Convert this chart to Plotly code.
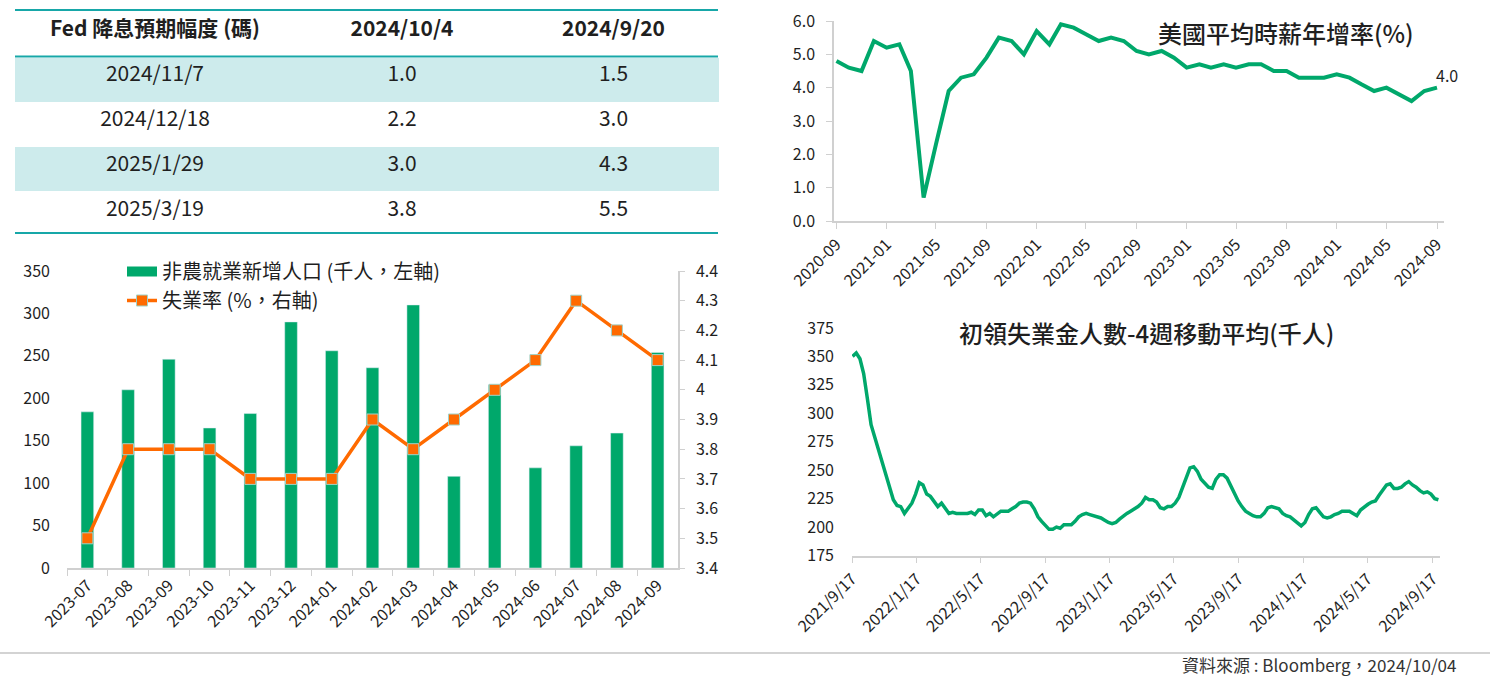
import pandas as pd
import plotly.graph_objects as go

W, H = 1490, 676
FONT = "Noto Sans CJK TC"
GREEN = "#00a86b"
ORANGE = "#ff6a00"
TEAL = "#17a7a8"
SHADE = "#cdebec"
AXIS = "#d0d0d0"
TXT = "#1f1f1f"

# ---------------- data ----------------
table_header = ["Fed 降息預期幅度 (碼)", "2024/10/4", "2024/9/20"]
meeting_dates = ["2024/11/7", "2024/12/18", "2025/1/29", "2025/3/19"]
cuts_oct4 = [1.0, 2.2, 3.0, 3.8]
cuts_sep20 = [1.5, 3.0, 4.3, 5.5]

nfp_months = ["2023-07", "2023-08", "2023-09", "2023-10", "2023-11", "2023-12",
              "2024-01", "2024-02", "2024-03", "2024-04", "2024-05", "2024-06",
              "2024-07", "2024-08", "2024-09"]
nfp_change = [184, 210, 246, 165, 182, 290, 256, 236, 310, 108, 216, 118, 144, 159, 254]
unemp_rate = [3.5, 3.8, 3.8, 3.8, 3.7, 3.7, 3.7, 3.9, 3.8, 3.9, 4.0, 4.1, 4.3, 4.2, 4.1]

wage_months = pd.date_range("2020-09-01", periods=49, freq="MS")
wage_yoy = [4.8, 4.6, 4.5, 5.4, 5.2, 5.3, 4.5, 0.7, 2.3, 3.9, 4.3, 4.4, 4.9,
            5.5, 5.4, 5.0, 5.7, 5.3, 5.9, 5.8, 5.6, 5.4, 5.5, 5.4, 5.1, 5.0,
            5.1, 4.9, 4.6, 4.7, 4.6, 4.7, 4.6, 4.7, 4.7, 4.5, 4.5, 4.3, 4.3,
            4.3, 4.4, 4.3, 4.1, 3.9, 4.0, 3.8, 3.6, 3.9, 4.0]

claims_weeks = pd.date_range("2021-09-18", periods=159, freq="7D")
claims_4wk = [350, 353, 348, 335, 313, 290, 279, 269, 257, 246, 236, 224, 219, 218,
              212, 216, 221, 229, 239, 237, 229, 227, 223, 218, 221, 217, 212, 213,
              212, 212, 212, 212, 213, 211, 215, 215, 210, 212, 209, 212, 214, 214,
              214, 216, 218, 221, 222, 222, 221, 216, 209, 205, 202, 198, 198, 200,
              199, 202, 202, 202, 205, 209, 211, 212, 211, 210, 209, 208, 206, 204,
              203, 204, 207, 210, 212, 214, 216, 218, 221, 226, 224, 224, 222, 217,
              216, 218, 218, 221, 226, 235, 244, 252, 253, 249, 242, 238, 235, 234,
              242, 246, 246, 243, 236, 229, 223, 218, 214, 212, 210, 209, 209, 212,
              217, 218, 217, 216, 212, 210, 209, 206, 204, 201, 204, 211, 216, 217,
              213, 209, 208, 209, 211, 212, 214, 214, 214, 212, 210, 215, 218, 220,
              222, 223, 228, 233, 237, 238, 234, 234, 235, 238, 240, 237, 235, 232,
              230, 231, 229, 225, 224]
claims_tick_dates = ["2021-09-17", "2022-01-17", "2022-05-17", "2022-09-17", "2023-01-17",
                     "2023-05-17", "2023-09-17", "2024-01-17", "2024-05-17", "2024-09-17"]
claims_tick_labels = ["2021/9/17", "2022/1/17", "2022/5/17", "2022/9/17", "2023/1/17",
                      "2023/5/17", "2023/9/17", "2024/1/17", "2024/5/17", "2024/9/17"]

title_wage = "美國平均時薪年增率(%)"
title_claims = "初領失業金人數-4週移動平均(千人)"
legend_nfp = "非農就業新增人口 (千人，左軸)"
legend_unemp = "失業率 (%，右軸)"
source_text = "資料來源 : Bloomberg，2024/10/04"

# ---------------- figure ----------------
fig = go.Figure()

row_fill = [SHADE if i % 2 == 0 else "white" for i in range(len(meeting_dates))]
HEAD_H, ROW_H, TOP = 45, 44.8, 12.5
fig.add_trace(go.Table(
    domain=dict(x=[15 / W, 718 / W],
                y=[1 - (TOP + HEAD_H + 4 * ROW_H) / H, 1 - TOP / H]),
    columnwidth=[280, 214, 209],
    header=dict(values=table_header,
                fill_color="white", line=dict(width=1, color="white"),
                align="center", height=HEAD_H,
                font=dict(family=FONT, size=21, color=TXT, weight="bold")),
    cells=dict(values=[meeting_dates,
                       [f"{v:.1f}" for v in cuts_oct4],
                       [f"{v:.1f}" for v in cuts_sep20]],
               fill_color=[row_fill] * 3,
               line=dict(width=1, color=[row_fill] * 3),
               align="center", height=ROW_H,
               font=dict(family=FONT, size=21, color=TXT)),
))

# bottom-left: bars + unemployment line
fig.add_trace(go.Bar(x=nfp_months, y=nfp_change, marker_color=GREEN, width=0.31,
                     showlegend=False, xaxis="x", yaxis="y", hoverinfo="x+y"))
fig.add_trace(go.Scatter(x=[None], y=[None], mode="lines",
                         line=dict(color=GREEN, width=12),
                         name=legend_nfp, xaxis="x", yaxis="y"))
fig.add_trace(go.Scatter(x=nfp_months, y=unemp_rate, mode="lines+markers",
                         line=dict(color=ORANGE, width=3.5),
                         marker=dict(symbol="square", size=11, color=ORANGE,
                                     line=dict(color="#9fd2c8", width=1)),
                         name=legend_unemp, xaxis="x", yaxis="y2"))

# top-right: wage growth
fig.add_trace(go.Scatter(x=wage_months, y=wage_yoy, mode="lines",
                         line=dict(color=GREEN, width=4),
                         showlegend=False, xaxis="x2", yaxis="y3"))

# bottom-right: initial claims
fig.add_trace(go.Scatter(x=claims_weeks, y=claims_4wk, mode="lines",
                         line=dict(color=GREEN, width=3.5),
                         showlegend=False, xaxis="x3", yaxis="y4"))

tick_font = dict(family=FONT, size=16, color=TXT)

fig.update_layout(
    width=W, height=H,
    margin=dict(l=0, r=0, t=0, b=0, autoexpand=False),
    paper_bgcolor="white", plot_bgcolor="white",
    font=dict(family=FONT, color=TXT),
    showlegend=True,
    legend=dict(x=122 / W, y=1 - 252 / H, xanchor="left", yanchor="top",
                bgcolor="rgba(0,0,0,0)", borderwidth=0, tracegroupgap=0,
                font=dict(family=FONT, size=20, color=TXT), traceorder="normal"),
    xaxis=dict(domain=[67 / W, 678 / W], anchor="y", type="category",
               range=[-0.5, len(nfp_months) - 0.5], automargin=False,
               tickangle=-45, tickson="boundaries", ticks="outside", ticklen=6,
               tickcolor=AXIS, showline=True, linecolor=AXIS, linewidth=1.5,
               showgrid=False, tickfont=tick_font),
    yaxis=dict(domain=[1 - 568 / H, 1 - 271 / H], anchor="x", range=[0, 350], dtick=50,
               showgrid=False, showline=False, zeroline=False, ticks="", automargin=False,
               ticklabelstandoff=16, tickfont=tick_font),
    yaxis2=dict(overlaying="y", side="right", anchor="x", range=[3.4, 4.4], dtick=0.1,
                showgrid=False, showline=True, linecolor=AXIS, linewidth=1.5,
                ticks="outside", ticklen=5, tickcolor=AXIS, zeroline=False, automargin=False,
                ticklabelstandoff=8, tickfont=tick_font),
    xaxis2=dict(domain=[834 / W, 1444 / W], anchor="y3", type="date",
                range=["2020-08-26", "2024-09-18"], automargin=False,
                tickvals=list(wage_months[::4]), tickformat="%Y-%m",
                tickangle=-45, ticks="outside", ticklen=6, tickcolor=AXIS,
                showline=True, linecolor=AXIS, linewidth=1.5, showgrid=False,
                tickfont=tick_font),
    yaxis3=dict(domain=[1 - 221 / H, 1 - 21 / H], anchor="x2", range=[0, 6], dtick=1,
                tickformat=".1f", showgrid=False, showline=True, linecolor=AXIS,
                linewidth=1.5, ticks="outside", ticklen=6, tickcolor=AXIS, automargin=False,
                zeroline=False, ticklabelstandoff=8, tickfont=tick_font),
    xaxis3=dict(domain=[852 / W, 1440 / W], anchor="y4", type="date",
                range=["2021-09-17", "2024-10-01"], automargin=False,
                tickvals=claims_tick_dates, ticktext=claims_tick_labels,
                tickangle=-45, ticks="outside", ticklen=6, tickcolor=AXIS,
                showline=True, linecolor=AXIS, linewidth=1.5, showgrid=False,
                tickfont=tick_font),
    yaxis4=dict(domain=[1 - 555.5 / H, 1 - 328 / H], anchor="x3", range=[175, 375],
                dtick=25, showgrid=False, showline=False, zeroline=False, ticks="",
                automargin=False, ticklabelstandoff=17, tickfont=tick_font),
)

# table rules
for yy in (10, 56.5, 233):
    fig.add_shape(type="line", xref="paper", yref="paper",
                  x0=15 / W, x1=718 / W, y0=1 - yy / H, y1=1 - yy / H,
                  line=dict(color=TEAL, width=2))
# footer rule
fig.add_shape(type="line", xref="paper", yref="paper", x0=0, x1=1,
              y0=1 - 653 / H, y1=1 - 653 / H, line=dict(color="#c4c4c4", width=1.5))

fig.add_annotation(x=wage_months[-1], y=wage_yoy[-1], xref="x2", yref="y3",
                   text=f"{wage_yoy[-1]:.1f}", showarrow=False, xshift=10, yshift=13,
                   font=dict(family=FONT, size=16, color=TXT))
fig.add_annotation(x=1286 / W, y=1 - 32 / H, xref="paper", yref="paper",
                   text=title_wage, showarrow=False, xanchor="center", yanchor="middle",
                   font=dict(family=FONT, size=24, color=TXT, weight=500))
fig.add_annotation(x=1146 / W, y=1 - 332 / H, xref="paper", yref="paper",
                   text=title_claims, showarrow=False, xanchor="center",
                   yanchor="middle", font=dict(family=FONT, size=24, color=TXT, weight=500))
fig.add_annotation(x=1458 / W, y=1 - 664 / H, xref="paper", yref="paper",
                   text=source_text, showarrow=False, xanchor="right", yanchor="middle",
                   font=dict(family=FONT, size=17, color="#333333"))

fig.write_html("out.html", config={"displayModeBar": False},
               post_script="document.body.style.margin='0px';")
